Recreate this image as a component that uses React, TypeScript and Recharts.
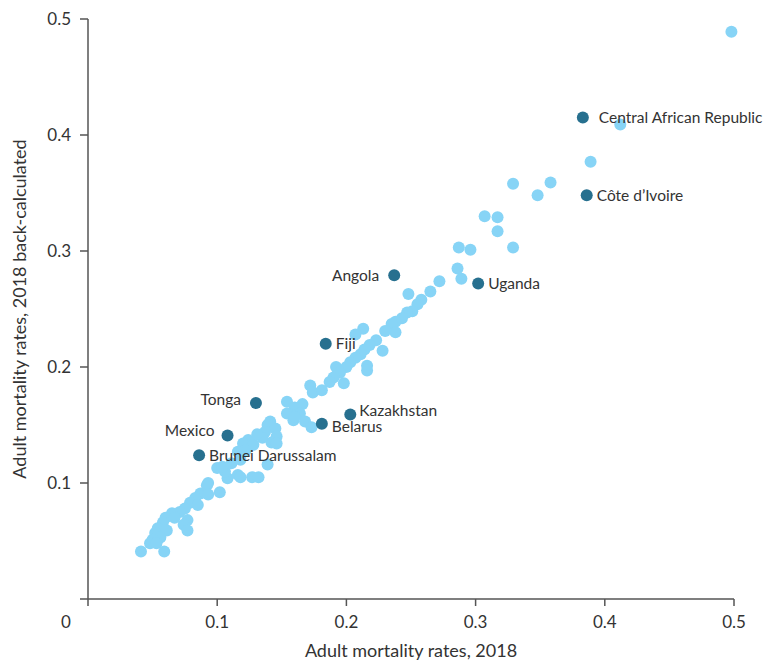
import { Label, Scatter, ScatterChart, XAxis, YAxis } from "recharts";

// countries shown without a label: [2018 rate, 2018 back-calculated rate]
const otherCountries: [number, number][] = [
  [0.498, 0.489], [0.412, 0.409], [0.389, 0.377], [0.358, 0.359], [0.348, 0.348],
  [0.329, 0.358], [0.307, 0.33], [0.317, 0.329], [0.317, 0.317], [0.329, 0.303],
  [0.287, 0.303], [0.296, 0.301], [0.286, 0.285], [0.289, 0.276], [0.272, 0.274],
  [0.265, 0.265], [0.248, 0.263], [0.258, 0.258], [0.255, 0.254], [0.251, 0.248],
  [0.247, 0.247], [0.243, 0.242], [0.238, 0.239], [0.235, 0.237], [0.238, 0.23],
  [0.23, 0.231], [0.213, 0.233], [0.207, 0.228], [0.223, 0.223], [0.218, 0.219],
  [0.214, 0.215], [0.211, 0.211], [0.228, 0.214], [0.207, 0.208], [0.203, 0.204],
  [0.216, 0.201], [0.216, 0.197], [0.2, 0.2], [0.192, 0.2], [0.195, 0.195],
  [0.19, 0.191], [0.187, 0.187], [0.198, 0.186], [0.172, 0.184], [0.174, 0.178],
  [0.181, 0.18], [0.154, 0.17], [0.166, 0.168], [0.16, 0.165], [0.154, 0.16],
  [0.164, 0.16], [0.159, 0.154], [0.168, 0.153], [0.173, 0.148], [0.16, 0.157],
  [0.141, 0.153], [0.139, 0.15], [0.145, 0.147], [0.137, 0.144], [0.146, 0.14],
  [0.142, 0.135], [0.135, 0.139], [0.124, 0.137], [0.12, 0.134], [0.128, 0.133],
  [0.122, 0.128], [0.116, 0.127], [0.146, 0.134], [0.139, 0.116], [0.127, 0.105],
  [0.132, 0.105], [0.116, 0.107], [0.108, 0.104], [0.1, 0.113], [0.106, 0.11],
  [0.093, 0.1], [0.111, 0.117], [0.104, 0.114], [0.118, 0.12], [0.131, 0.142],
  [0.118, 0.105], [0.092, 0.098], [0.102, 0.092], [0.087, 0.091], [0.093, 0.09],
  [0.083, 0.087], [0.079, 0.083], [0.085, 0.081], [0.075, 0.078], [0.071, 0.075],
  [0.065, 0.074], [0.06, 0.07], [0.067, 0.07], [0.058, 0.066], [0.077, 0.068],
  [0.074, 0.064], [0.077, 0.059], [0.054, 0.061], [0.061, 0.059], [0.052, 0.057],
  [0.056, 0.053], [0.05, 0.051], [0.048, 0.048], [0.053, 0.048], [0.041, 0.041],
  [0.059, 0.041],
];

const namedCountries = [
  "Central African Republic", "Côte d’Ivoire", "Uganda", "Angola", "Fiji",
  "Kazakhstan", "Belarus", "Tonga", "Mexico", "Brunei Darussalam",
];
const namedRate2018 = [0.383, 0.386, 0.302, 0.237, 0.184, 0.203, 0.181, 0.13, 0.108, 0.086];
const namedBackCalc = [0.415, 0.348, 0.272, 0.279, 0.22, 0.159, 0.151, 0.169, 0.141, 0.124];

const axisTicks = [0, 0.1, 0.2, 0.3, 0.4, 0.5];

const otherData = otherCountries.map(([x, y]) => ({ x, y }));
const namedData = namedCountries.map((name, i) => ({ name, x: namedRate2018[i], y: namedBackCalc[i] }));

const LIGHT = "#87d4f6";
const DARK = "#27708f";
const AXIS = "#555555";
const TEXT = "#333333";
const FONT = "Lato, 'Open Sans', sans-serif";

// label placement: [dx, dy, anchor]
const labelPlace: Record<string, [number, number, "start" | "end"]> = {
  "Central African Republic": [16, 0, "start"],
  Angola: [-15, 0, "end"],
  Tonga: [-15, -3, "end"],
  Mexico: [-13, -5, "end"],
  Kazakhstan: [9, -4, "start"],
  Belarus: [10, 3, "start"],
};

function LightDot(props: any) {
  const { cx, cy } = props;
  return <circle cx={cx} cy={cy} r={6} fill={LIGHT} />;
}

function NamedDot(props: any) {
  const { cx, cy, payload } = props;
  const [dx, dy, anchor] = labelPlace[payload.name] ?? [10, 0, "start"];
  return (
    <g>
      <circle cx={cx} cy={cy} r={6} fill={DARK} />
      <text x={cx + dx} y={cy + dy} dy="0.35em" textAnchor={anchor} fontSize={15.5} fill={TEXT} fontFamily={FONT}>
        {payload.name}
      </text>
    </g>
  );
}

function XTick(props: any) {
  const { x, y, payload } = props;
  const v = payload.value as number;
  return (
    <text x={v === 0 ? x - 22 : x} y={y + 14} dy="0.35em" textAnchor="middle" fontSize={17} fill={TEXT} fontFamily={FONT}>
      {v === 0 ? "0" : v.toFixed(1)}
    </text>
  );
}

export default function App() {
  return (
    <ScatterChart width={763} height={654} margin={{ top: 11, right: 37, bottom: 0, left: 0 }}>
      <XAxis
        type="number"
        dataKey="x"
        domain={[0, 0.5]}
        ticks={axisTicks}
        height={63}
        stroke={AXIS}
        strokeWidth={1.5}
        tickSize={7}
        tick={<XTick />}
      >
        <Label
          content={(p: any) => (
            <text x={p.viewBox.x + p.viewBox.width / 2} y={649} textAnchor="middle" fontSize={18} fill={TEXT} fontFamily={FONT}>
              Adult mortality rates, 2018
            </text>
          )}
        />
      </XAxis>
      <YAxis
        type="number"
        dataKey="y"
        domain={[0, 0.5]}
        ticks={axisTicks}
        width={80}
        stroke={AXIS}
        strokeWidth={1.5}
        tickSize={8}
        tickMargin={9}
        tickFormatter={(v: number) => (v === 0 ? "" : v.toFixed(1))}
        tick={{ fontSize: 17, fill: TEXT, fontFamily: FONT }}
      >
        <Label
          content={() => {
            const cy = 11 + 580 / 2;
            return (
              <text x={18} y={cy} transform={`rotate(-90, 18, ${cy})`} textAnchor="middle" fontSize={18} fill={TEXT} fontFamily={FONT}>
                Adult mortality rates, 2018 back-calculated
              </text>
            );
          }}
        />
      </YAxis>
      <Scatter data={otherData} shape={<LightDot />} isAnimationActive={false} />
      <Scatter data={namedData} shape={<NamedDot />} isAnimationActive={false} />
    </ScatterChart>
  );
}
